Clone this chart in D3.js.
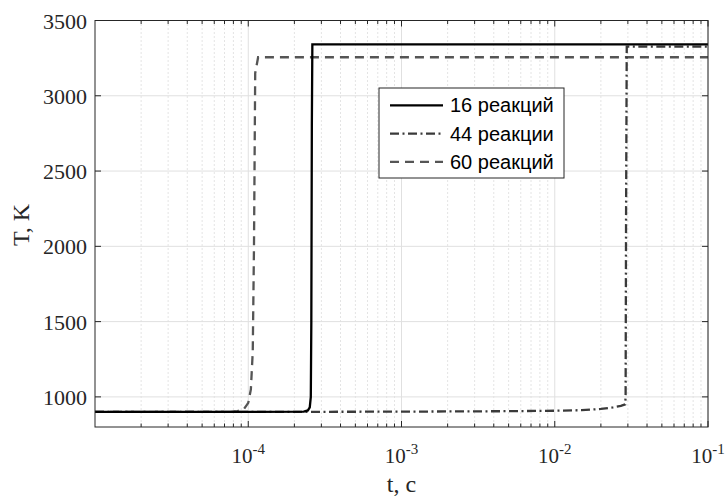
<!DOCTYPE html>
<html>
<head>
<meta charset="utf-8">
<script src="https://cdn.jsdelivr.net/npm/d3@7"></script>
<style>
  body { margin: 0; background: #fff; }
  svg { display: block; }
</style>
</head>
<body>
<svg id="chart" width="725" height="497"></svg>
<script>
// data
const t16 = [1e-5, 1e-4, 2.3e-4, 2.45e-4, 2.52e-4, 2.56e-4, 2.58e-4, 2.6e-4, 2.62e-4, 1e-1]
const T16 = [900, 900, 902, 910, 930, 1000, 1500, 2800, 3342, 3342]
const t44 = [1e-5, 1e-4, 1e-3, 5e-3, 1e-2, 1.5e-2, 2e-2, 2.4e-2, 2.7e-2, 2.88e-2, 2.9e-2, 2.92e-2, 2.95e-2, 1e-1]
const T44 = [900, 900, 902, 905, 908, 912, 920, 930, 940, 950, 1000, 2200, 3326, 3326]
const t60 = [1e-5, 7.5e-5, 8.5e-5, 9.3e-5, 1.0e-4, 1.04e-4, 1.07e-4, 1.09e-4, 1.11e-4, 1.16e-4, 1e-1]
const T60 = [900, 900, 906, 915, 960, 1050, 1300, 2000, 3150, 3256, 3256]
const seriesNames = ['16 реакций', '44 реакции', '60 реакций']
const yTicks = [1000, 1500, 2000, 2500, 3000, 3500]
const xTickExp = [-4, -3, -2, -1]

const svg = d3.select('#chart')
const margin = {top: 20.5, right: 17, bottom: 70, left: 95}
const W = 725, H = 497
const x0 = margin.left, x1 = W - margin.right
const y0 = margin.top, y1 = H - margin.bottom

const x = d3.scaleLog().domain([1e-5, 1e-1]).range([x0, x1])
const y = d3.scaleLinear().domain([800, 3500]).range([y1, y0])

const axisColor = '#262626'

// minor log positions
let minor = []
for (let e = -5; e < -1; e++) {
  for (let m = 2; m <= 9; m++) minor.push(m * Math.pow(10, e))
}
const major = xTickExp.map(e => Math.pow(10, e))

let grid = svg.append('g')
grid.selectAll('line.minor')
  .data(minor)
  .enter()
  .append('line')
  .attr('x1', d => x(d)).attr('x2', d => x(d))
  .attr('y1', y0).attr('y2', y1)
  .style('stroke', '#c8c8c8')
  .style('stroke-width', 1)
  .style('stroke-dasharray', '1,3')
grid.selectAll('line.majx')
  .data(major)
  .enter()
  .append('line')
  .attr('x1', d => x(d)).attr('x2', d => x(d))
  .attr('y1', y0).attr('y2', y1)
  .style('stroke', '#e0e0e0')
  .style('stroke-width', 1)
grid.selectAll('line.majy')
  .data(yTicks)
  .enter()
  .append('line')
  .attr('x1', x0).attr('x2', x1)
  .attr('y1', d => y(d)).attr('y2', d => y(d))
  .style('stroke', '#e0e0e0')
  .style('stroke-width', 1)

// curves
const line = d3.line().x(d => x(d[0])).y(d => y(d[1]))
const series = [
  {name: seriesNames[0], pts: d3.zip(t16, T16), color: '#000000', dash: null},
  {name: seriesNames[1], pts: d3.zip(t44, T44), color: '#3a3a3a', dash: '9,3.5,2,3.5'},
  {name: seriesNames[2], pts: d3.zip(t60, T60), color: '#555555', dash: '9,6'}
]
// draw order: 60 and 44 below solid
svg.append('g').selectAll('path')
  .data([series[2], series[1], series[0]])
  .enter()
  .append('path')
  .attr('d', d => line(d.pts))
  .style('fill', 'none')
  .style('stroke', d => d.color)
  .style('stroke-width', 2.3)
  .style('stroke-dasharray', d => d.dash)

// box and ticks
let ax = svg.append('g')
ax.append('rect')
  .attr('x', x0).attr('y', y0)
  .attr('width', x1 - x0).attr('height', y1 - y0)
  .style('fill', 'none').style('stroke', axisColor).style('stroke-width', 1)

const xt = major.map(d => ({v: d, len: 6})).concat(minor.map(d => ({v: d, len: 3.5})))
ax.selectAll('line.xb').data(xt).enter().append('line')
  .attr('x1', d => x(d.v)).attr('x2', d => x(d.v))
  .attr('y1', y1).attr('y2', d => y1 - d.len)
  .style('stroke', axisColor)
ax.selectAll('line.xt').data(xt).enter().append('line')
  .attr('x1', d => x(d.v)).attr('x2', d => x(d.v))
  .attr('y1', y0).attr('y2', d => y0 + d.len)
  .style('stroke', axisColor)
ax.selectAll('line.yl').data(yTicks).enter().append('line')
  .attr('x1', x0).attr('x2', x0 + 6)
  .attr('y1', d => y(d)).attr('y2', d => y(d))
  .style('stroke', axisColor)
ax.selectAll('line.yr').data(yTicks).enter().append('line')
  .attr('x1', x1).attr('x2', x1 - 6)
  .attr('y1', d => y(d)).attr('y2', d => y(d))
  .style('stroke', axisColor)

const serif = '"Liberation Serif", "Times New Roman", serif'
ax.selectAll('text.yl').data(yTicks).enter().append('text')
  .attr('x', x0 - 8)
  .attr('y', d => y(d) + 8)
  .attr('text-anchor', 'end')
  .style('font-family', serif)
  .style('font-size', '22px')
  .style('fill', axisColor)
  .text(d => d)

let xl = ax.selectAll('text.xl').data(xTickExp).enter().append('text')
  .attr('x', d => x(Math.pow(10, d)))
  .attr('y', y1 + 36)
  .attr('text-anchor', 'middle')
  .style('font-family', serif)
  .style('font-size', '21px')
  .style('fill', axisColor)
xl.append('tspan').text('10')
xl.append('tspan')
  .attr('dy', -9)
  .style('font-size', '15px')
  .text(d => d)

svg.append('text')
  .attr('x', (x0 + x1) / 2)
  .attr('y', 492)
  .attr('text-anchor', 'middle')
  .style('font-family', serif)
  .style('font-size', '24px')
  .style('fill', axisColor)
  .text('t, c')

svg.append('text')
  .attr('transform', 'translate(29,' + 225 + ') rotate(-90)')
  .attr('text-anchor', 'middle')
  .style('font-family', serif)
  .style('font-size', '24px')
  .style('fill', axisColor)
  .text('T, K')

// legend
let lg = svg.append('g').attr('transform', 'translate(379,88)')
lg.append('rect')
  .attr('width', 185).attr('height', 90)
  .style('fill', '#fff').style('stroke', axisColor).style('stroke-width', 1)
let items = lg.selectAll('g.item').data(series).enter().append('g')
  .attr('transform', (d, i) => 'translate(0,' + (17.3 + i * 28.3) + ')')
items.append('line')
  .attr('x1', 11).attr('x2', 64)
  .attr('y1', 0).attr('y2', 0)
  .style('stroke', d => d.color)
  .style('stroke-width', 2.3)
  .style('stroke-dasharray', d => d.dash)
items.append('text')
  .attr('x', 71)
  .attr('y', 7)
  .style('font-family', '"Liberation Sans", Arial, sans-serif')
  .style('font-size', '20px')
  .style('fill', '#000')
  .text(d => d.name)
</script>
</body>
</html>
